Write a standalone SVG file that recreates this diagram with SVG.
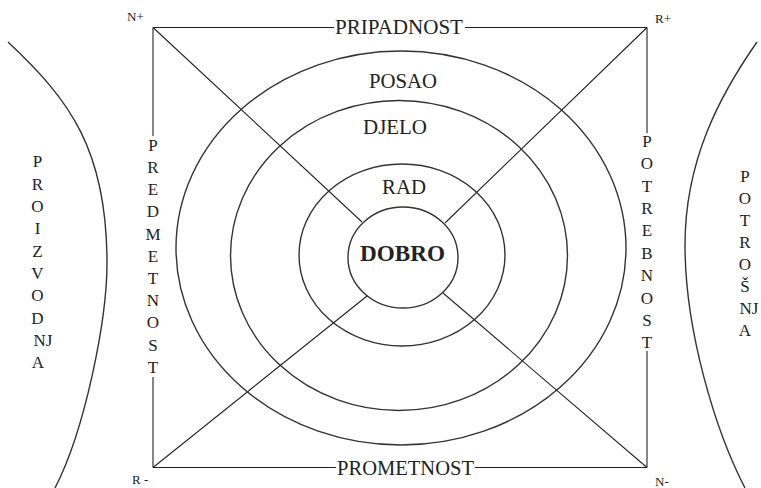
<svg xmlns="http://www.w3.org/2000/svg" width="761" height="488" viewBox="0 0 761 488">
<style>
.ln{stroke:#222;stroke-width:1.1;fill:none}
.el{stroke:#333;stroke-width:1.4;fill:none}
.t{font-family:"Liberation Serif","Times New Roman",serif;fill:#222}
.h{font-size:20px}
.v{font-size:17px;text-anchor:middle}
.c{font-size:13px}
</style>
<rect width="761" height="488" fill="#fff"/>
<g id="connectors">
<line class="ln" x1="153" y1="27.5" x2="334" y2="27.5"/>
<line class="ln" x1="465" y1="27.5" x2="647" y2="27.5"/>
<line class="ln" x1="153" y1="467.5" x2="336" y2="467.5"/>
<line class="ln" x1="475" y1="467.5" x2="647" y2="467.5"/>
<line class="ln" x1="153" y1="27.5" x2="153" y2="136"/>
<line class="ln" x1="153" y1="377" x2="153" y2="467.5"/>
<line class="ln" x1="647" y1="27.5" x2="647" y2="133"/>
<line class="ln" x1="647" y1="351" x2="647" y2="467.5"/>
<line class="ln" x1="153" y1="27.5" x2="362" y2="222"/>
<line class="ln" x1="647" y1="27.5" x2="445" y2="223"/>
<line class="ln" x1="153" y1="467.5" x2="367" y2="296"/>
<line class="ln" x1="647" y1="467.5" x2="443" y2="293"/>
</g>
<g id="posao">
<ellipse class="el" cx="401" cy="248" rx="225" ry="197"/>
<text class="t h" x="369" y="88" textLength="68" lengthAdjust="spacingAndGlyphs">POSAO</text>
</g>
<g id="djelo">
<ellipse class="el" cx="399" cy="255.5" rx="168.5" ry="155"/>
<text class="t h" x="363" y="134" textLength="64" lengthAdjust="spacingAndGlyphs">DJELO</text>
</g>
<g id="rad">
<ellipse class="el" cx="402" cy="255" rx="103" ry="91"/>
<text class="t h" x="382" y="194" textLength="44" lengthAdjust="spacingAndGlyphs">RAD</text>
</g>
<g id="dobro">
<ellipse class="el" cx="403" cy="257.5" rx="55" ry="50.5"/>
<text class="t" x="360" y="261" font-size="23" font-weight="bold" textLength="85" lengthAdjust="spacingAndGlyphs">DOBRO</text>
</g>
<g id="pripadnost">
<text class="t h" x="335" y="34" textLength="128" lengthAdjust="spacingAndGlyphs">PRIPADNOST</text>
</g>
<g id="prometnost">
<text class="t h" x="337" y="475" textLength="137" lengthAdjust="spacingAndGlyphs">PROMETNOST</text>
</g>
<g id="predmetnost">
<text class="t v" x="153" y="150.7">P</text>
<text class="t v" x="153" y="172.9">R</text>
<text class="t v" x="153" y="195.1">E</text>
<text class="t v" x="153" y="217.3">D</text>
<text class="t v" x="153" y="239.5">M</text>
<text class="t v" x="153" y="261.7">E</text>
<text class="t v" x="153" y="283.9">T</text>
<text class="t v" x="153" y="306.1">N</text>
<text class="t v" x="153" y="328.3">O</text>
<text class="t v" x="153" y="350.5">S</text>
<text class="t v" x="153" y="372.7">T</text>
</g>
<g id="potrebnost">
<text class="t v" x="647" y="146.7">P</text>
<text class="t v" x="647" y="169.1">O</text>
<text class="t v" x="647" y="191.5">T</text>
<text class="t v" x="647" y="213.9">R</text>
<text class="t v" x="647" y="236.3">E</text>
<text class="t v" x="647" y="258.7">B</text>
<text class="t v" x="647" y="281.1">N</text>
<text class="t v" x="647" y="303.5">O</text>
<text class="t v" x="647" y="325.9">S</text>
<text class="t v" x="647" y="348.3">T</text>
</g>
<g id="proizvodnja">
<path class="el" d="M 8 42 C 70 100 107 150 107 263 C 107 320 85 430 55 488"/>
<text class="t v" x="37.5" y="167.4">P</text>
<text class="t v" x="37.5" y="189.7">R</text>
<text class="t v" x="37.5" y="212">O</text>
<text class="t v" x="37.5" y="234.3">I</text>
<text class="t v" x="37.5" y="256.6">Z</text>
<text class="t v" x="37.5" y="278.9">V</text>
<text class="t v" x="37.5" y="301.2">O</text>
<text class="t v" x="37.5" y="323.5">D</text>
<text class="t v" x="43" y="345.8">NJ</text>
<text class="t v" x="38" y="368.1">A</text>
</g>
<g id="potrosnja">
<path class="el" d="M 757 42 C 720 95 685 160 685 245 C 685 330 715 430 745 488"/>
<text class="t v" x="745" y="181.7">P</text>
<text class="t v" x="745" y="203.8">O</text>
<text class="t v" x="745" y="225.9">T</text>
<text class="t v" x="745" y="248">R</text>
<text class="t v" x="745" y="270.1">O</text>
<text class="t v" x="745" y="292.2">Š</text>
<text class="t v" x="749" y="314.3">NJ</text>
<text class="t v" x="745" y="336.4">A</text>
</g>
<g id="corners">
<text class="t c" x="127" y="21">N+</text>
<text class="t c" x="655" y="23">R+</text>
<text class="t c" x="132" y="484">R -</text>
<text class="t c" x="655" y="486">N-</text>
</g>
</svg>
